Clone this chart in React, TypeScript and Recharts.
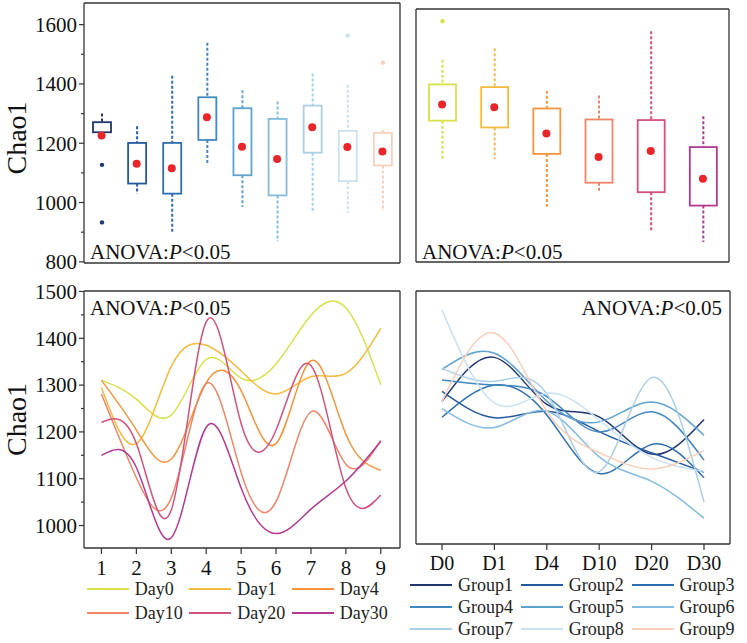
import React from 'react';
import { ComposedChart, LineChart, Line, Bar, Scatter, XAxis, YAxis, Legend } from 'recharts';

const FONT = '"Liberation Serif", "Times New Roman", serif';
const AXIS = '#333';
const INK = '#111';
const MEAN_RED = '#e8262a';

// colours
const GROUP_COLORS = ['#1f3670', '#245a9c', '#2d6fae', '#3f88c2', '#5ea2cf', '#83bcdf', '#aacfe8', '#c9e1f1', '#f9cfb9'];
const DAY_COLORS = ['#d9e04a', '#f4bb3f', '#f5943c', '#ef8566', '#d2527c', '#b23892'];

// top-left boxes: Chao1 by group
const GROUPS = ['Group1', 'Group2', 'Group3', 'Group4', 'Group5', 'Group6', 'Group7', 'Group8', 'Group9'];
const G_Q1 = [1237, 1064, 1030, 1211, 1092, 1024, 1168, 1072, 1125];
const G_Q3 = [1271, 1201, 1201, 1355, 1318, 1282, 1327, 1242, 1235];
const G_MIN = [1237, 1030, 900, 1128, 985, 869, 965, 965, 971];
const G_MAX = [1300, 1257, 1428, 1539, 1379, 1341, 1435, 1397, 1245];
const G_MEAN = [1226, 1131, 1116, 1288, 1188, 1147, 1254, 1187, 1172];
const G_OUT = [[1127, 933], [], [], [], [], [], [], [1563], [1472]];

// top-right boxes: Chao1 by day
const DAYS = ['Day0', 'Day1', 'Day4', 'Day10', 'Day20', 'Day30'];
const D_Q1 = [1277, 1254, 1165, 1068, 1036, 991];
const D_Q3 = [1399, 1390, 1318, 1281, 1279, 1188];
const D_MIN = [1147, 1147, 987, 1035, 905, 868];
const D_MAX = [1482, 1521, 1378, 1362, 1578, 1292];
const D_MEAN = [1331, 1322, 1234, 1155, 1175, 1081];
const D_OUT = [[1612], [], [], [], [], []];

// bottom-left lines: x = group number, one line per day
const SITES = [1, 2, 3, 4, 5, 6, 7, 8, 9];
const DAY0_LINE = [1310, 1270, 1236, 1355, 1315, 1345, 1449, 1465, 1301];
const DAY1_LINE = [1295, 1175, 1340, 1385, 1330, 1281, 1318, 1325, 1421];
const DAY4_LINE = [1310, 1204, 1142, 1305, 1288, 1175, 1352, 1195, 1118];
const DAY10_LINE = [1281, 1102, 1059, 1303, 1113, 1051, 1243, 1131, 1182];
const DAY20_LINE = [1220, 1175, 1033, 1435, 1218, 1204, 1342, 1080, 1065];
const DAY30_LINE = [1150, 1124, 974, 1210, 1080, 983, 1035, 1095, 1180];
const DAY_LINES = [DAY0_LINE, DAY1_LINE, DAY4_LINE, DAY10_LINE, DAY20_LINE, DAY30_LINE];

// bottom-right lines: x = time point, one line per group
const TIMES = ['D0', 'D1', 'D4', 'D10', 'D20', 'D30'];
const GROUP1_LINE = [1261, 1357, 1255, 1228, 1147, 1222];
const GROUP2_LINE = [1283, 1226, 1240, 1196, 1150, 1108];
const GROUP3_LINE = [1227, 1297, 1232, 1105, 1168, 1096];
const GROUP4_LINE = [1308, 1297, 1272, 1195, 1239, 1134];
const GROUP5_LINE = [1331, 1366, 1262, 1217, 1260, 1188];
const GROUP6_LINE = [1246, 1205, 1240, 1141, 1088, 1008];
const GROUP7_LINE = [1333, 1305, 1278, 1109, 1313, 1043];
const GROUP8_LINE = [1460, 1258, 1279, 1221, 1140, 1110];
const GROUP9_LINE = [1261, 1410, 1240, 1150, 1115, 1155];
const GROUP_LINES = [GROUP1_LINE, GROUP2_LINE, GROUP3_LINE, GROUP4_LINE, GROUP5_LINE, GROUP6_LINE, GROUP7_LINE, GROUP8_LINE, GROUP9_LINE];

const groupBoxes = GROUPS.map((name, i) => ({
  name, idx: i, box: [G_Q1[i], G_Q3[i]], lo: G_MIN[i], hi: G_MAX[i], mean: G_MEAN[i], out: G_OUT[i],
}));
const dayBoxes = DAYS.map((name, i) => ({
  name, idx: i, box: [D_Q1[i], D_Q3[i]], lo: D_MIN[i], hi: D_MAX[i], mean: D_MEAN[i], out: D_OUT[i],
}));
const dayRows = SITES.map((site, i) => {
  const row: any = { site };
  DAYS.forEach((d, k) => { row[d] = DAY_LINES[k][i]; });
  return row;
});
const groupRows = TIMES.map((t, i) => {
  const row: any = { t };
  GROUPS.forEach((g, k) => { row[g] = GROUP_LINES[k][i]; });
  return row;
});

const TS = 5; // y tick size
const TM = 2; // y tick margin
const frameLine = { stroke: AXIS, strokeWidth: 1.3 };

// box + dashed whiskers + outliers, positions taken from the bar's own scaled rect
const BoxShape = (props: any) => {
  const { x, y, width, height, payload, colors } = props;
  if (payload == null) return null;
  const top = Math.min(y, y + height);
  const h = Math.abs(height);
  const [q1, q3] = payload.box;
  const k = h / (q3 - q1);
  const py = (v: number) => top + (q3 - v) * k;
  const cx = x + width / 2;
  const c = colors[payload.idx];
  return (
    <g>
      {payload.hi > q3 && (
        <line x1={cx} x2={cx} y1={py(payload.hi)} y2={top} stroke={c} strokeWidth={2} strokeDasharray="3 2" />
      )}
      {payload.lo < q1 && (
        <line x1={cx} x2={cx} y1={top + h} y2={py(payload.lo)} stroke={c} strokeWidth={2} strokeDasharray="3 2" />
      )}
      <rect x={x} y={top} width={width} height={h} fill="none" stroke={c} strokeWidth={1.8} />
      {payload.out.map((v: number, j: number) => (
        <circle key={j} cx={cx} cy={py(v)} r={2.2} fill={c} />
      ))}
    </g>
  );
};

const MeanDot = (props: any) => <circle cx={props.cx} cy={props.cy} r={4} fill={MEAN_RED} />;

const makeYTick = (majorStep: number) => (props: any) => {
  const { x, y, payload } = props;
  const ax = x + TS + TM;
  const v = payload.value;
  const major = Math.round(v) % majorStep === 0;
  return (
    <g>
      <line x1={ax - (major ? TS : 3)} x2={ax} y1={y} y2={y} stroke={AXIS} strokeWidth={1.2} />
      {major && (
        <text x={x} y={y} dy="0.35em" textAnchor="end" fontSize={21} fill={INK} fontFamily={FONT}>
          {v}
        </text>
      )}
    </g>
  );
};

const chaoLabel = (shift: number) => (props: any) => {
  const vb = props.viewBox || {};
  const lx = (vb.x || 0) + 16;
  const ly = (vb.y || 0) + (vb.height || 0) / 2 + shift;
  return (
    <text x={lx} y={ly} transform={`rotate(-90 ${lx} ${ly})`} textAnchor="middle" dominantBaseline="central"
      fontSize={28} fill={INK} fontFamily={FONT}>
      Chao1
    </text>
  );
};

const LegendGrid = ({ payload, order, cols, colW, padLeft, rowH }: any) => {
  const items = [...(payload || [])].sort((a: any, b: any) => order.indexOf(a.value) - order.indexOf(b.value));
  return (
    <div style={{ position: 'relative', height: Math.ceil(order.length / cols) * rowH, fontFamily: FONT }}>
      {items.map((p: any, i: number) => (
        <div key={p.value} style={{
          position: 'absolute', left: padLeft + (i % cols) * colW, top: Math.floor(i / cols) * rowH,
          height: rowH, display: 'flex', alignItems: 'center', whiteSpace: 'nowrap',
        }}>
          <svg width={42} height={4}><line x1={0} x2={42} y1={2} y2={2} stroke={p.color} strokeWidth={2} /></svg>
          <span style={{ marginLeft: 6, fontSize: 18, color: '#222', lineHeight: `${rowH}px` }}>{p.value}</span>
        </div>
      ))}
    </div>
  );
};

const Anova = ({ left, top }: { left: number; top: number }) => (
  <div style={{ position: 'absolute', left, top, fontSize: 21, lineHeight: '21px', color: INK, whiteSpace: 'nowrap' }}>
    ANOVA:<i>P</i>&lt;0.05
  </div>
);

export default function App() {
  const g1Domain = [796, 1673];
  const g2Domain = [801, 1653];
  const lineDomain = [952, 1501];
  return (
    <div style={{ position: 'absolute', left: 0, top: 0, width: 747, height: 643, background: '#fff', fontFamily: FONT, overflow: 'hidden' }}>
      {/* top-left box plot */}
      <div style={{ position: 'absolute', left: 0, top: 0 }}>
        <ComposedChart width={402} height={280} data={groupBoxes} margin={{ top: 2, right: 1, left: 0, bottom: 16 }}>
          <XAxis dataKey="name" height={1} tick={false} tickLine={false} axisLine={frameLine} />
          <XAxis xAxisId="top" orientation="top" dataKey="name" height={1} tick={false} tickLine={false} axisLine={frameLine} />
          <YAxis domain={g1Domain} allowDataOverflow ticks={[800, 900, 1000, 1100, 1200, 1300, 1400, 1500, 1600]}
            interval={0} width={84} tickSize={TS} tickMargin={TM} tickLine={false} tick={makeYTick(200)}
            axisLine={frameLine} label={chaoLabel(5)} />
          <YAxis yAxisId="right" orientation="right" width={1} domain={g1Domain} tick={false} tickLine={false} axisLine={frameLine} />
          <Bar dataKey="box" barSize={18} isAnimationActive={false}
            shape={(p: any) => <BoxShape {...p} colors={GROUP_COLORS} />} />
          <Scatter dataKey="mean" isAnimationActive={false} shape={MeanDot} />
        </ComposedChart>
        <Anova left={90} top={242} />
      </div>

      {/* top-right box plot */}
      <div style={{ position: 'absolute', left: 405, top: 0, width: 340, height: 270 }}>
        <ComposedChart width={330} height={266} data={dayBoxes} margin={{ top: 8, right: 5, left: 10, bottom: 3 }}>
          <XAxis dataKey="name" height={1} tick={false} tickLine={false} axisLine={frameLine} />
          <XAxis xAxisId="top" orientation="top" dataKey="name" height={1} tick={false} tickLine={false} axisLine={frameLine} />
          <YAxis domain={g2Domain} allowDataOverflow width={1} tick={false} tickLine={false} axisLine={frameLine} />
          <YAxis yAxisId="right" orientation="right" width={1} domain={g2Domain} tick={false} tickLine={false} axisLine={frameLine} />
          <Bar dataKey="box" barSize={27} isAnimationActive={false}
            shape={(p: any) => <BoxShape {...p} colors={DAY_COLORS} />} />
          <Scatter dataKey="mean" isAnimationActive={false} shape={MeanDot} />
        </ComposedChart>
        <Anova left={17} top={242} />
      </div>

      {/* bottom-left lines */}
      <div style={{ position: 'absolute', left: 0, top: 275 }}>
        <LineChart width={410} height={368} data={dayRows} margin={{ top: 15, right: 9, left: 0, bottom: 18 }}>
          <XAxis dataKey="site" type="number" domain={[0.5, 9.55]} allowDataOverflow ticks={SITES} interval={0}
            height={29} tickSize={6} tickMargin={6} tick={{ fontSize: 21, fill: INK }}
            tickLine={{ stroke: AXIS, strokeWidth: 1.2 }} axisLine={frameLine} />
          <XAxis xAxisId="top" orientation="top" dataKey="site" type="number" domain={[0.5, 9.55]} allowDataOverflow
            height={1} tick={false} tickLine={false} axisLine={frameLine} />
          <YAxis domain={lineDomain} allowDataOverflow
            ticks={[1000, 1050, 1100, 1150, 1200, 1250, 1300, 1350, 1400, 1450, 1500]} interval={0}
            width={84} tickSize={TS} tickMargin={TM} tickLine={false} tick={makeYTick(100)}
            axisLine={frameLine} label={chaoLabel(0)} />
          <YAxis yAxisId="right" orientation="right" width={1} domain={lineDomain} tick={false} tickLine={false} axisLine={frameLine} />
          {DAYS.map((d, k) => (
            <Line key={d} dataKey={d} name={d} type="natural" stroke={DAY_COLORS[k]} strokeWidth={1.5}
              dot={false} isAnimationActive={false} />
          ))}
          <Legend verticalAlign="bottom" align="left" wrapperStyle={{ left: 0 }}
            content={(p: any) => <LegendGrid payload={p.payload} order={DAYS} cols={3} colW={102.5} padLeft={86.7} rowH={24} />} />
        </LineChart>
        <Anova left={90} top={23} />
      </div>

      {/* bottom-right lines */}
      <div style={{ position: 'absolute', left: 405, top: 275 }}>
        <LineChart width={342} height={368} data={groupRows} margin={{ top: 15, right: 16, left: 10, bottom: 3 }}>
          <XAxis dataKey="t" padding={{ left: 26, right: 26 }} height={30} tickSize={6} tickMargin={6}
            interval={0} tick={{ fontSize: 20, fill: INK }} tickLine={{ stroke: AXIS, strokeWidth: 1.2 }}
            axisLine={frameLine} />
          <XAxis xAxisId="top" orientation="top" dataKey="t" height={1} tick={false} tickLine={false} axisLine={frameLine} />
          <YAxis domain={lineDomain} allowDataOverflow width={1} tick={false} tickLine={false} axisLine={frameLine} />
          <YAxis yAxisId="right" orientation="right" width={1} domain={lineDomain} tick={false} tickLine={false} axisLine={frameLine} />
          {GROUPS.map((g, k) => (
            <Line key={g} dataKey={g} name={g} type="natural" stroke={GROUP_COLORS[k]} strokeWidth={1.5}
              dot={false} isAnimationActive={false} />
          ))}
          <Legend verticalAlign="bottom" align="left" wrapperStyle={{ left: 0 }}
            content={(p: any) => <LegendGrid payload={p.payload} order={GROUPS} cols={3} colW={110.8} padLeft={5} rowH={22} />} />
        </LineChart>
        <div style={{ position: 'absolute', left: 0, top: 23, width: 317, textAlign: 'right' }}>
          <span style={{ fontSize: 21, lineHeight: '21px', color: INK, whiteSpace: 'nowrap' }}>
            ANOVA:<i>P</i>&lt;0.05
          </span>
        </div>
      </div>
    </div>
  );
}
